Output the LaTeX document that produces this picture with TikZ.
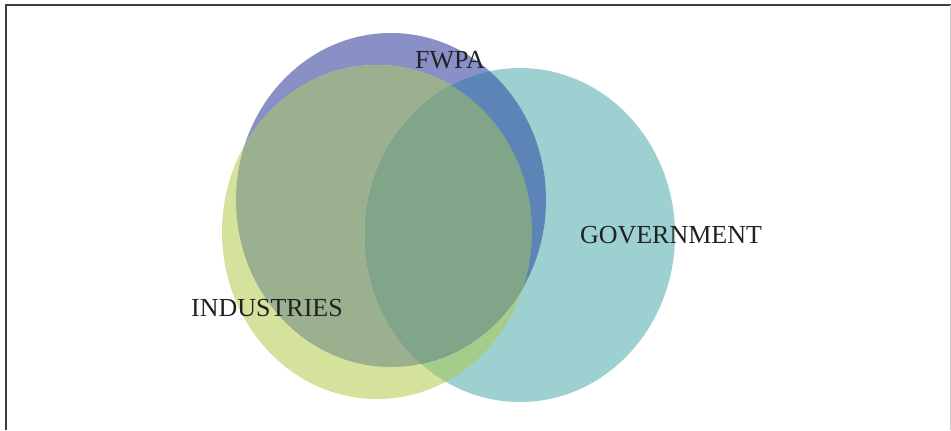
\documentclass[tikz,border=0pt]{standalone}
\usepackage{fontspec}
\setmainfont{Liberation Serif}
\usepackage{tikz}
\definecolor{fwpablue}{RGB}{136,144,197}
\definecolor{indgreen}{RGB}{212,226,156}
\definecolor{govteal}{RGB}{157,208,208}
\definecolor{fwpaind}{RGB}{154,176,143}
\definecolor{fwpagov}{RGB}{92,132,183}
\definecolor{indgov}{RGB}{164,204,138}
\definecolor{allthree}{RGB}{129,165,136}
\definecolor{framegray}{RGB}{64,64,64}
\definecolor{labeltext}{RGB}{34,34,34}
\tikzstyle{blob} = [x radius=155, y radius=167]
\tikzstyle{lbl}  = [inner sep=0pt, anchor=base, text=labeltext, font=\fontsize{13}{15}\selectfont]

\begin{document}
\begin{tikzpicture}[x=0.5pt,y=-0.5pt]
\useasboundingbox (0,0) rectangle (951,430);

%frame
\draw [line width=1pt, framegray] (6,430) -- (6,5) -- (951,5);
\draw [line width=0.4pt, gray!40] (950,5) -- (950,430);

%centres
\coordinate (cf) at (391,200);
\coordinate (ci) at (377,232);
\coordinate (cg) at (520,235);

%single sets
\fill [fwpablue] (cf) ellipse [blob];
\fill [indgreen] (ci) ellipse [blob];
\fill [govteal]  (cg) ellipse [blob];

%overlaps
\begin{scope}
\clip (ci) ellipse [blob];
\fill [indgov] (cg) ellipse [blob];
\end{scope}
\begin{scope}
\clip (cf) ellipse [blob];
\fill [fwpaind] (ci) ellipse [blob];
\fill [fwpagov] (cg) ellipse [blob];
\clip (ci) ellipse [blob];
\fill [allthree] (cg) ellipse [blob];
\end{scope}

%labels
\node [lbl] (fwpa) at (450,68)  {FWPA};
\node [lbl] (ind)  at (267,316) {INDUSTRIES};
\node [lbl] (gov)  at (671,243) {GOVERNMENT};

\end{tikzpicture}
\end{document}
